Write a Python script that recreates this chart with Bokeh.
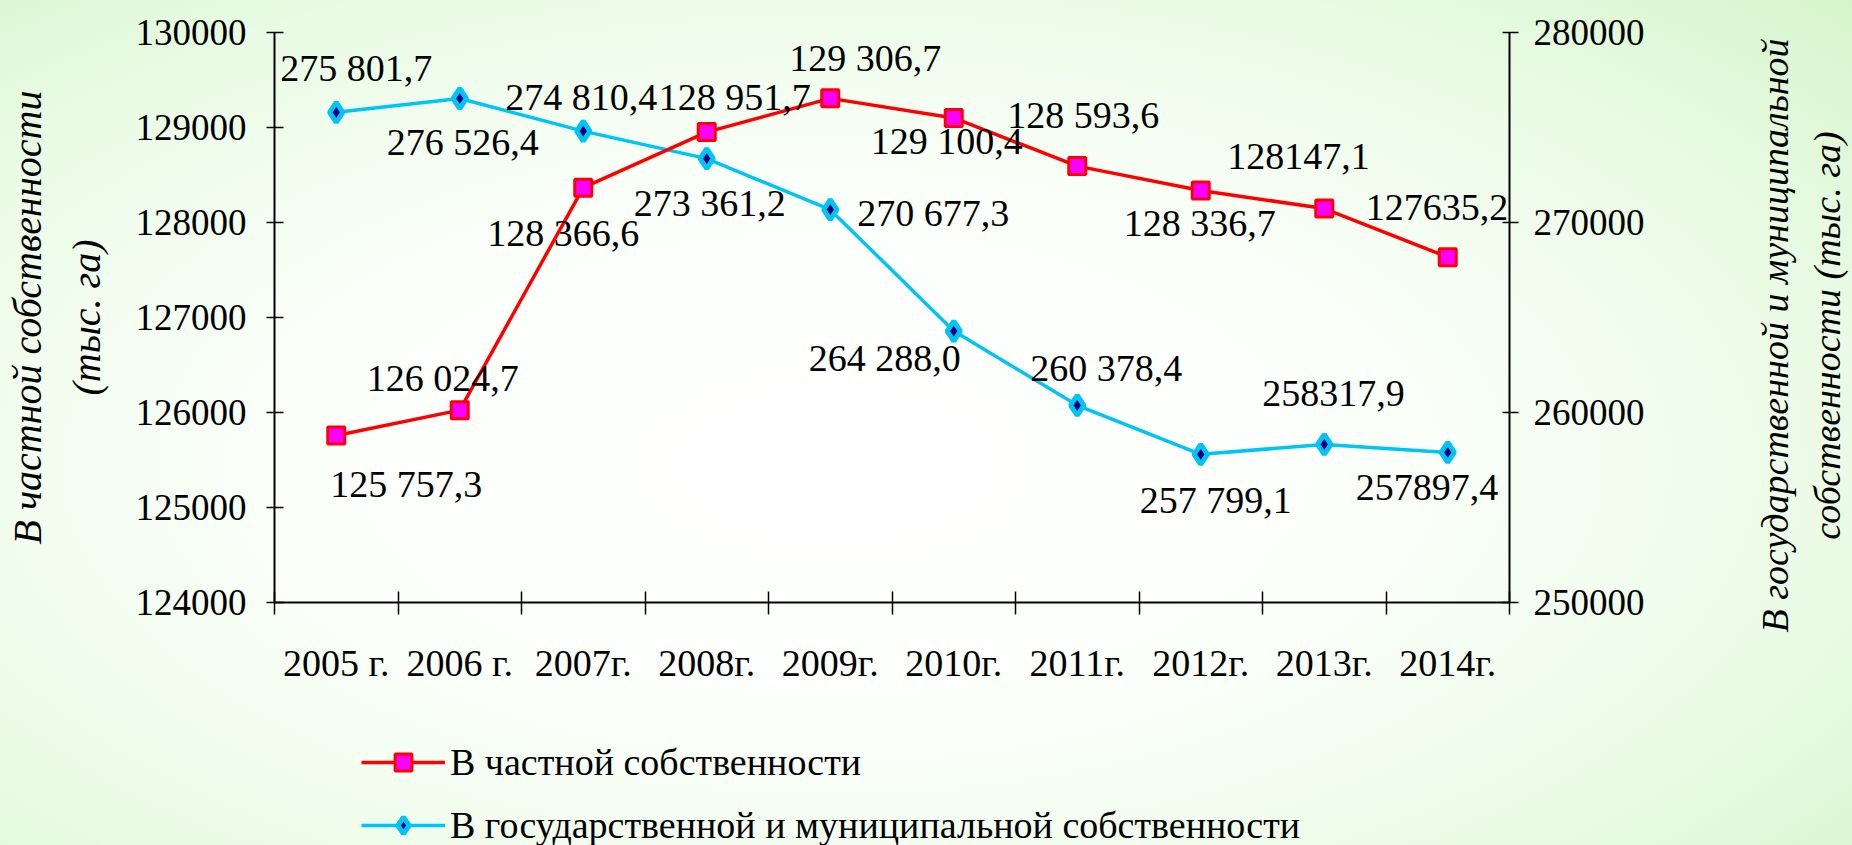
import numpy as np
from bokeh.plotting import figure
from bokeh.layouts import row, column
from bokeh.models import (Range1d, LinearAxis, FixedTicker, NumeralTickFormatter,
                          CustomJSTickFormatter, ColumnDataSource, Legend, LegendItem)
from bokeh.core.properties import value
from bokeh.embed import file_html
from bokeh.resources import INLINE

# ---------------- data ----------------
years = ["2005 г.", "2006 г.", "2007г.", "2008г.", "2009г.",
         "2010г.", "2011г.", "2012г.", "2013г.", "2014г."]
private_vals = [125757.3, 126024.7, 128366.6, 128951.7, 129306.7,
                129100.4, 128593.6, 128336.7, 128147.1, 127635.2]
state_vals = [275801.7, 276526.4, 274810.4, 273361.2, 270677.3,
              264288.0, 260378.4, 257799.1, 258317.9, 257897.4]
private_labels = ["125 757,3", "126  024,7", "128 366,6", "128 951,7", "129 306,7",
                  "129 100,4", "128 593,6", "128 336,7", "128147,1", "127635,2"]
state_labels = ["275 801,7", "276 526,4", "274 810,4", "273 361,2", "270 677,3",
                "264 288,0", "260 378,4", "257 799,1", "258317,9", "257897,4"]
left_ticks = [124000, 125000, 126000, 127000, 128000, 129000, 130000]
right_ticks = [250000, 260000, 270000, 280000]
series_names = ["В частной собственности", "В государственной и муниципальной собственности"]
left_title = "В частной собственности\n(тыс. га)"
right_title = "В государственной и муниципальной\nсобственности (тыс. га)"

# label placement (screen px offsets from the point: text left edge, vertical centre)
private_dx = [-6, -93, -96, -48, -41, -83, -70, -77, -97, -82]
private_dy = [48, -32, 45, -35, -40, 23, -51, 32, -52, -50]
state_dx = [-56, -73, -78, -73, 27, -145, -47, -61, -62, -92]
state_dy = [-44, 44, -34, 44, 3, 27, -37, 46, -51, 35]

FONT = "Liberation Serif"
RED, MAGENTA, CYAN, NAVY = "#ff0000", "#ff00ff", "#00c4f4", "#000080"


def blank(fig):
    fig.grid.visible = False
    fig.background_fill_color = None
    fig.border_fill_color = None
    fig.outline_line_color = None


n = len(years)
xs = list(np.arange(n) + 0.5)

src_s = ColumnDataSource(dict(x=xs, y=state_vals, t=state_labels, dx=state_dx, dy=state_dy))
src_p = ColumnDataSource(dict(x=xs, y=private_vals, t=private_labels, dx=private_dx, dy=private_dy))

# ---------------- main chart ----------------
p = figure(x_range=Range1d(0, n), y_range=Range1d(left_ticks[0], left_ticks[-1]),
           frame_width=1235, frame_height=570,
           min_border_left=274, min_border_right=143, min_border_top=32, min_border_bottom=98,
           output_backend="svg", toolbar_location=None,
           x_axis_location=None, y_axis_location=None)
p.extra_y_ranges = {"r": Range1d(right_ticks[0], right_ticks[-1])}
blank(p)

xaxis = LinearAxis(ticker=FixedTicker(ticks=xs, minor_ticks=list(range(n + 1))),
                   formatter=CustomJSTickFormatter(args=dict(labels=years),
                                                   code="return labels[Math.floor(tick)] || '';"),
                   major_tick_line_color=None, major_tick_in=0, major_tick_out=0,
                   minor_tick_in=11, minor_tick_out=12, minor_tick_line_width=1.5,
                   minor_tick_line_color="black",
                   axis_line_width=2, axis_line_color="black",
                   major_label_standoff=27,
                   major_label_text_font=FONT, major_label_text_font_size="38px",
                   major_label_text_color="black")
p.add_layout(xaxis, "below")

laxis = LinearAxis(ticker=FixedTicker(ticks=left_ticks), formatter=NumeralTickFormatter(format="0"),
                   major_tick_in=9, major_tick_out=8, major_tick_line_width=1.5,
                   minor_tick_line_color=None, axis_line_width=2,
                   major_label_standoff=20, major_label_text_font=FONT,
                   major_label_text_font_size="37px", major_label_text_color="black",
                   axis_label=left_title, axis_label_standoff=24,
                   axis_label_text_font=FONT, axis_label_text_font_style="italic",
                   axis_label_text_font_size="40px", axis_label_text_line_height=1.3,
                   axis_label_text_color="black")
p.add_layout(laxis, "left")

raxis = LinearAxis(y_range_name="r", ticker=FixedTicker(ticks=right_ticks),
                   formatter=NumeralTickFormatter(format="0"),
                   major_tick_in=7, major_tick_out=9, major_tick_line_width=1.5,
                   minor_tick_line_color=None, axis_line_width=2,
                   major_label_standoff=15, major_label_text_font=FONT,
                   major_label_text_font_size="37px", major_label_text_color="black")
p.add_layout(raxis, "right")

bl = p.line("x", "y", source=src_s, y_range_name="r", line_color=CYAN, line_width=3.5)
bs = p.scatter("x", "y", source=src_s, y_range_name="r", marker="diamond", size=20,
               fill_color=NAVY, line_color=CYAN, line_width=5)
rl = p.line("x", "y", source=src_p, line_color=RED, line_width=3.5)
rs = p.scatter("x", "y", source=src_p, marker="square", size=17,
               fill_color=MAGENTA, line_color=RED, line_width=3)

p.text("x", "y", text="t", source=src_p, x_offset="dx", y_offset="dy",
       text_font=value(FONT), text_font_size="38px", text_align="left",
       text_baseline="middle", text_color="black")
p.text("x", "y", text="t", source=src_s, y_range_name="r", x_offset="dx", y_offset="dy",
       text_font=value(FONT), text_font_size="38px", text_align="left",
       text_baseline="middle", text_color="black")

# ---------------- right title panel (read bottom-to-top, like the left one) ----------------
pr = figure(x_range=Range1d(0, 1), y_range=Range1d(0, 1),
            frame_width=1, frame_height=606,
            min_border_left=199, min_border_right=0, min_border_top=0, min_border_bottom=94,
            output_backend="svg", toolbar_location=None,
            x_axis_location=None, y_axis_location=None)
blank(pr)
title_axis = LinearAxis(ticker=FixedTicker(ticks=[]), axis_line_color=None,
                        major_tick_line_color=None, minor_tick_line_color=None,
                        major_tick_in=0, major_tick_out=0, major_label_standoff=0,
                        major_label_text_font_size="0px",
                        axis_label=right_title, axis_label_standoff=4,
                        axis_label_text_font=FONT, axis_label_text_font_style="italic",
                        axis_label_text_font_size="38px", axis_label_text_line_height=1.22,
                        axis_label_text_color="black")
pr.add_layout(title_axis, "left")

# ---------------- legend panel ----------------
pl = figure(x_range=Range1d(0, 1), y_range=Range1d(0, 1),
            frame_width=1852, frame_height=145,
            min_border_left=0, min_border_right=0, min_border_top=0, min_border_bottom=0,
            output_backend="svg", toolbar_location=None,
            x_axis_location=None, y_axis_location=None)
blank(pl)
lrl = pl.line("x", "y", source=src_p, line_color=RED, line_width=3.5, visible=False)
lrs = pl.scatter("x", "y", source=src_p, marker="square", size=17,
                 fill_color=MAGENTA, line_color=RED, line_width=3, visible=False)
lbl = pl.line("x", "y", source=src_s, line_color=CYAN, line_width=3.5, visible=False)
lbs = pl.scatter("x", "y", source=src_s, marker="diamond", size=20,
                 fill_color=NAVY, line_color=CYAN, line_width=5, visible=False)
legend = Legend(items=[LegendItem(label=series_names[0], renderers=[lrl, lrs]),
                       LegendItem(label=series_names[1], renderers=[lbl, lbs])],
                location=(361, -2), orientation="vertical", click_policy="none",
                glyph_width=84, glyph_height=42, label_height=43, label_standoff=5, spacing=19,
                padding=0, margin=0, border_line_color=None, background_fill_color=None,
                inactive_fill_alpha=0,
                label_text_font=FONT, label_text_font_size="38px", label_text_color="black")
pl.add_layout(legend, "center")

layout = column(row(p, pr), pl)
layout.styles = {"background": "radial-gradient(ellipse 75% 80% at 45% 55%, #ffffff 0%, #fbfffa 40%, #e9fbe4 75%, #d6f5cc 100%)"}

open("out.html", "w").write(file_html(layout, INLINE))
